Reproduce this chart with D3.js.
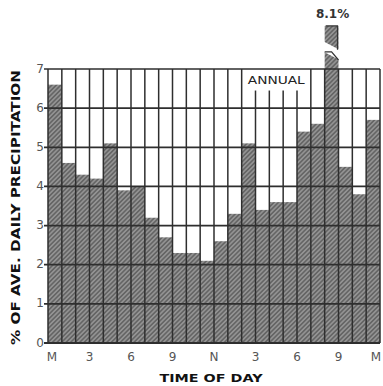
<!DOCTYPE html>
<html>
<head>
<meta charset="utf-8">
<script src="https://cdn.jsdelivr.net/npm/d3@7"></script>
<style>
  body { margin: 0; background: #fff; }
  svg { display: block; }
</style>
</head>
<body>
<div class="container"></div>
<script>
const w = 383;
const h = 386;

// percent of average daily precipitation falling in each hour, midnight to midnight
const hours = [0,1,2,3,4,5,6,7,8,9,10,11,12,13,14,15,16,17,18,19,20,21,22,23];
const pct = [6.6,4.6,4.3,4.2,5.1,3.9,4.0,3.2,2.7,2.3,2.3,2.1,2.6,3.3,5.1,3.4,3.6,3.6,5.4,5.6,8.1,4.5,3.8,5.7];
const yTicks = [0,1,2,3,4,5,6,7];
const xTickHours = [0,3,6,9,12,15,18,21,24];
const xTickLabels = ["M","3","6","9","N","3","6","9","M"];
const brokenHour = 20;
const brokenLabel = "8.1%";
// slanted break in the tall bar (values: left edge, right edge)
const breakTop = [7.7, 7.49];
const breakBottom = [7.44, 7.23];
const labelBox = {from: 14, to: 19, down: 6.45, text: "ANNUAL"};

const margin = {top: 69, bottom: 43, left: 48, right: 3};

const svg = d3.select('.container').append('svg')
  .attr('width', w)
  .attr('height', h);

const x = d3.scaleLinear()
  .domain([0, 24])
  .range([margin.left, w - margin.right]);

const y = d3.scaleLinear()
  .domain([0, 7])
  .range([h - margin.bottom, margin.top]);

const defs = svg.append('defs');
const pat = defs.append('pattern')
  .attr('id', 'hatch')
  .attr('patternUnits', 'userSpaceOnUse')
  .attr('width', 3.2)
  .attr('height', 3.2)
  .attr('patternTransform', 'rotate(45)');
pat.append('rect').attr('width', 3.2).attr('height', 3.2).attr('fill', '#939393');
pat.append('line')
  .attr('x1', 0.8).attr('x2', 0.8).attr('y1', 0).attr('y2', 3.2)
  .attr('stroke', '#5a5a5a').attr('stroke-width', 1.3);

// bars
svg.append('g').selectAll('rect')
  .data(hours)
  .join('rect')
    .attr('x', d => x(d))
    .attr('y', d => y(pct[d]))
    .attr('width', d => x(d + 1) - x(d))
    .attr('height', d => y(0) - y(pct[d]))
    .attr('fill', 'url(#hatch)');

// vertical grid
const grid = svg.append('g').attr('stroke', '#2e2e2e');
grid.selectAll('line.v')
  .data(d3.range(0, 25))
  .join('line')
    .attr('class', 'v')
    .attr('x1', d => x(d)).attr('x2', d => x(d))
    .attr('y1', d => (d > labelBox.from && d < labelBox.to) ? y(labelBox.down) : y(7))
    .attr('y2', y(0))
    .attr('stroke-width', 1.5);

// horizontal grid
grid.selectAll('line.hz')
  .data(yTicks)
  .join('line')
    .attr('class', 'hz')
    .attr('x1', x(0) - 4).attr('x2', x(24))
    .attr('y1', d => y(d)).attr('y2', d => y(d))
    .attr('stroke-width', d => d === 7 ? 1.4 : 1.8);

// annual label box
svg.append('text')
  .attr('x', (x(labelBox.from) + x(labelBox.to)) / 2)
  .attr('y', y(6.7))
  .attr('text-anchor', 'middle')
  .attr('dominant-baseline', 'middle')
  .attr('font-family', 'DejaVu Sans')
  .attr('font-size', 11)
  .attr('textLength', 57)
  .attr('lengthAdjust', 'spacingAndGlyphs')
  .attr('fill', '#222')
  .text(labelBox.text);

// broken bar: white slanted gap
const bx0 = x(brokenHour), bx1 = x(brokenHour + 1);
svg.append('path')
  .attr('d', `M${bx0 - 1},${y(breakTop[0])} L${bx1 + 1},${y(breakTop[1])} L${bx1 + 1},${y(breakBottom[1])} L${bx0 - 1},${y(breakBottom[0])} Z`)
  .attr('fill', '#fff');
svg.append('path')
  .attr('d', `M${bx0},${y(breakBottom[0])} L${(bx0 + bx1) / 2},${y(breakBottom[0])} L${bx1},${y(breakBottom[1])}`)
  .attr('fill', 'none').attr('stroke', '#333').attr('stroke-width', 1.2);
svg.append('path')
  .attr('d', `M${bx0 + 1},${y(8.1)} L${bx1 - 1},${y(8.1)} L${bx1 - 1},${y(breakTop[1])}`)
  .attr('fill', 'none').attr('stroke', '#333').attr('stroke-width', 1.2);
svg.append('text')
  .attr('x', (bx0 + bx1) / 2 + 1)
  .attr('y', y(8.1) - 8)
  .attr('text-anchor', 'middle')
  .attr('font-family', 'DejaVu Sans')
  .attr('font-weight', 600)
  .attr('font-size', 12)
  .attr('fill', '#333')
  .text(brokenLabel);

// y tick labels
svg.append('g').selectAll('text')
  .data(yTicks)
  .join('text')
    .attr('x', x(0) - 4)
    .attr('y', d => y(d))
    .attr('text-anchor', 'end')
    .attr('dominant-baseline', 'middle')
    .attr('font-family', 'DejaVu Sans')
    .attr('font-size', 12)
    .attr('fill', '#555')
    .text(d => d);

// x tick labels
svg.append('g').selectAll('text')
  .data(xTickHours)
  .join('text')
    .attr('x', (d, i) => x(d) + (i === 0 ? 4 : i === xTickHours.length - 1 ? -4 : 0))
    .attr('y', y(0) + 14)
    .attr('text-anchor', 'middle')
    .attr('dominant-baseline', 'middle')
    .attr('font-family', 'DejaVu Sans')
    .attr('font-size', 12)
    .attr('fill', '#555')
    .text((d, i) => xTickLabels[i]);

// axis titles
svg.append('text')
  .attr('x', 211)
  .attr('y', 379)
  .attr('text-anchor', 'middle')
  .attr('dominant-baseline', 'middle')
  .attr('font-family', 'DejaVu Sans')
  .attr('font-weight', 'bold')
  .attr('font-size', 11)
  .attr('textLength', 103)
  .attr('lengthAdjust', 'spacingAndGlyphs')
  .attr('fill', '#111')
  .text('TIME OF DAY');

svg.append('text')
  .attr('transform', `translate(16, ${(70 + 345) / 2}) rotate(-90)`)
  .attr('text-anchor', 'middle')
  .attr('dominant-baseline', 'middle')
  .attr('font-family', 'DejaVu Sans')
  .attr('font-weight', 'bold')
  .attr('font-size', 12)
  .attr('textLength', 275)
  .attr('lengthAdjust', 'spacingAndGlyphs')
  .attr('fill', '#111')
  .text('% OF AVE. DAILY PRECIPITATION');
</script>
</body>
</html>
